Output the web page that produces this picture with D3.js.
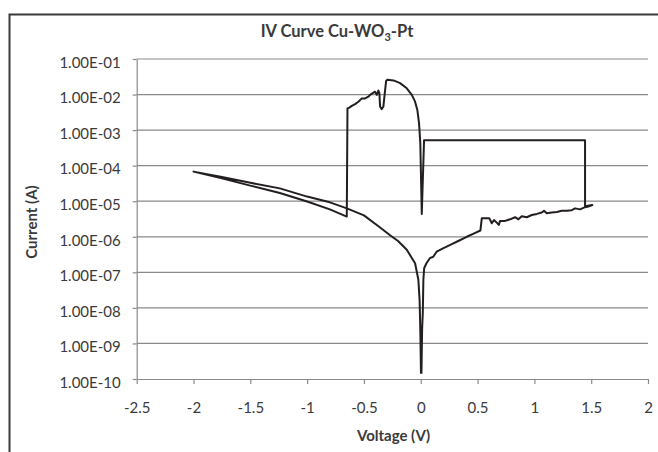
<!DOCTYPE html>
<html>
<head>
<meta charset="utf-8">
<script src="https://cdn.jsdelivr.net/npm/d3@7"></script>
<style>
  html, body { margin: 0; padding: 0; background: #fff; }
  svg { display: block; }
  text { font-family: Lato, "Open Sans", sans-serif; fill: #3a3a3a; }
</style>
</head>
<body>
<svg id="chart" width="658" height="452"></svg>
<script>
// ---- data ----
const voltage = [
  0.006, 0.012, 0.018, 0.023, 0.030, 0.050, 0.080, 0.110, 0.140, 0.200, 0.260, 0.330, 0.405, 0.470, 0.525,
  0.537, 0.604, 0.625, 0.645, 0.669, 0.687, 0.698, 0.742, 0.786, 0.830, 0.859, 0.889, 0.933, 0.977, 1.021,
  1.065, 1.085, 1.109, 1.153, 1.197, 1.241, 1.285, 1.329, 1.358, 1.402, 1.446, 1.475, 1.510,
  1.446, 1.446, 0.029, 0.009, -0.004,
  -0.015, -0.030, -0.050, -0.079, -0.123, -0.182, -0.240, -0.294, -0.305, -0.318,
  -0.329, -0.343, -0.358, -0.364, -0.373, -0.387, -0.402, -0.423, -0.446, -0.461, -0.490, -0.519,
  -0.549, -0.578, -0.607, -0.628, -0.645, -0.651,
  -0.800, -1.000, -1.240, -1.500, -1.750, -2.000,
  -1.750, -1.500, -1.240, -1.000, -0.800, -0.650, -0.500, -0.355, -0.270, -0.200, -0.123, -0.050,
  -0.021, -0.010, -0.004, 0.002
];
const current = [
  1.4e-10, 2.5e-9, 7.2e-9, 6.2e-8, 1.3e-7, 1.8e-7, 2.5e-7, 2.75e-7, 3.8e-7, 4.8e-7, 5.9e-7, 7.6e-7, 1.0e-6, 1.25e-6, 1.5e-6,
  3.3e-6, 3.3e-6, 2.4e-6, 2.95e-6, 2.5e-6, 2.15e-6, 2.8e-6, 2.8e-6, 3.1e-6, 3.55e-6, 3.1e-6, 3.8e-6, 3.55e-6, 4.1e-6, 4.4e-6,
  4.8e-6, 5.4e-6, 4.6e-6, 4.8e-6, 5.0e-6, 5.4e-6, 5.4e-6, 5.6e-6, 6.3e-6, 5.9e-6, 6.8e-6, 7.1e-6, 7.8e-6,
  7.2e-6, 5.2e-4, 5.2e-4, 4.4e-6, 4.3e-4,
  1.55e-3, 3.7e-3, 6.3e-3, 9.8e-3, 1.5e-2, 2.1e-2, 2.5e-2, 2.6e-2, 2.4e-2, 1.0e-2,
  4.6e-3, 3.9e-3, 4.6e-3, 1.1e-2, 1.3e-2, 9.8e-3, 1.2e-2, 1.1e-2, 9.8e-3, 8.7e-3, 7.8e-3, 7.8e-3,
  6.3e-3, 5.4e-3, 4.8e-3, 4.3e-3, 4.1e-3, 3.7e-6,
  5.9e-6, 9.8e-6, 1.7e-5, 2.75e-5, 4.4e-5, 6.8e-5,
  4.8e-5, 3.3e-5, 2.3e-5, 1.35e-5, 9.3e-6, 6.3e-6, 4.0e-6, 1.8e-6, 1.1e-6, 7.6e-7, 4.3e-7, 1.8e-7,
  6.2e-8, 1.6e-8, 2.5e-9, 1.4e-10
];
const xTicks = [-2.5, -2, -1.5, -1, -0.5, 0, 0.5, 1, 1.5, 2];
const xTickLabels = ["-2.5", "-2", "-1.5", "-1", "-0.5", "0", "0.5", "1", "1.5", "2"];
const yTicks = [1e-1, 1e-2, 1e-3, 1e-4, 1e-5, 1e-6, 1e-7, 1e-8, 1e-9, 1e-10];
const yTickLabels = ["1.00E-01", "1.00E-02", "1.00E-03", "1.00E-04", "1.00E-05",
                     "1.00E-06", "1.00E-07", "1.00E-08", "1.00E-09", "1.00E-10"];
const titleMain = "IV Curve Cu-WO";
const titleSub = "3";
const titleEnd = "-Pt";
const xTitle = "Voltage (V)";
const yTitle = "Current (A)";

// ---- layout ----
const plot = { left: 136.7, right: 648, top: 59, bottom: 379 };
const svg = d3.select("#chart");

svg.append("rect")
  .attr("x", 9.5).attr("y", 14.5)
  .attr("width", 700).attr("height", 500)
  .attr("fill", "none").attr("stroke", "#3a3a3a").attr("stroke-width", 2);

const x = d3.scaleLinear().domain([-2.5, 2]).range([plot.left, plot.right]);
const y = d3.scaleLog().domain([1e-10, 1e-1]).range([plot.bottom, plot.top]);

// gridlines
svg.append("g").selectAll("line")
  .data(yTicks.slice(0, -1))
  .join("line")
  .attr("x1", plot.left).attr("x2", plot.right)
  .attr("y1", d => y(d)).attr("y2", d => y(d))
  .attr("stroke", "#8a8a8a").attr("stroke-width", 1.2);

// y axis (line + short outside ticks + labels)
const yAxis = d3.axisLeft(y)
  .tickValues(yTicks)
  .tickFormat((d, i) => yTickLabels[i])
  .tickSizeInner(4).tickSizeOuter(0).tickPadding(12);
const gy = svg.append("g")
  .attr("transform", `translate(${plot.left},0)`)
  .call(yAxis);
gy.select(".domain").attr("stroke", "#8a8a8a").attr("stroke-width", 1.2);
gy.selectAll(".tick line").attr("stroke", "#8a8a8a").attr("stroke-width", 1.2);
gy.selectAll(".tick text")
  .attr("dy", "0.55em")
  .attr("font-family", "Lato, sans-serif").attr("font-size", 15).attr("fill", "#3a3a3a");

// x axis
const xAxis = d3.axisBottom(x)
  .tickValues(xTicks)
  .tickFormat((d, i) => xTickLabels[i])
  .tickSizeInner(5).tickSizeOuter(0).tickPadding(18);
const gx = svg.append("g")
  .attr("transform", `translate(0,${plot.bottom})`)
  .call(xAxis);
gx.select(".domain").attr("stroke", "#8a8a8a").attr("stroke-width", 1.2);
gx.selectAll(".tick line").attr("stroke", "#8a8a8a").attr("stroke-width", 1.2);
gx.selectAll(".tick text")
  .attr("dy", "0").attr("y", 34)
  .attr("font-family", "Lato, sans-serif").attr("font-size", 15).attr("fill", "#3a3a3a");

// curve
const pts = voltage.map((v, i) => [v, current[i]]);
svg.append("path")
  .datum(pts)
  .attr("fill", "none")
  .attr("stroke", "#231f20")
  .attr("stroke-width", 2)
  .attr("stroke-linejoin", "round")
  .attr("d", d3.line().x(d => x(d[0])).y(d => y(d[1])));

// title
const t = svg.append("text")
  .attr("x", 337).attr("y", 37)
  .attr("text-anchor", "middle")
  .attr("font-size", 16.5).attr("font-weight", "bold").attr("fill", "#3a3a3a");
t.append("tspan").text(titleMain);
t.append("tspan").attr("font-size", 11).attr("dy", 4).text(titleSub);
t.append("tspan").attr("dy", -4).text(titleEnd);

// axis titles
svg.append("text")
  .attr("x", 393.5).attr("y", 441)
  .attr("text-anchor", "middle")
  .attr("font-size", 15).attr("font-weight", "bold").attr("fill", "#3a3a3a")
  .text(xTitle);
svg.append("text")
  .attr("transform", "translate(37,222) rotate(-90)")
  .attr("text-anchor", "middle")
  .attr("font-size", 15).attr("font-weight", "bold").attr("fill", "#3a3a3a")
  .text(yTitle);
</script>
</body>
</html>
